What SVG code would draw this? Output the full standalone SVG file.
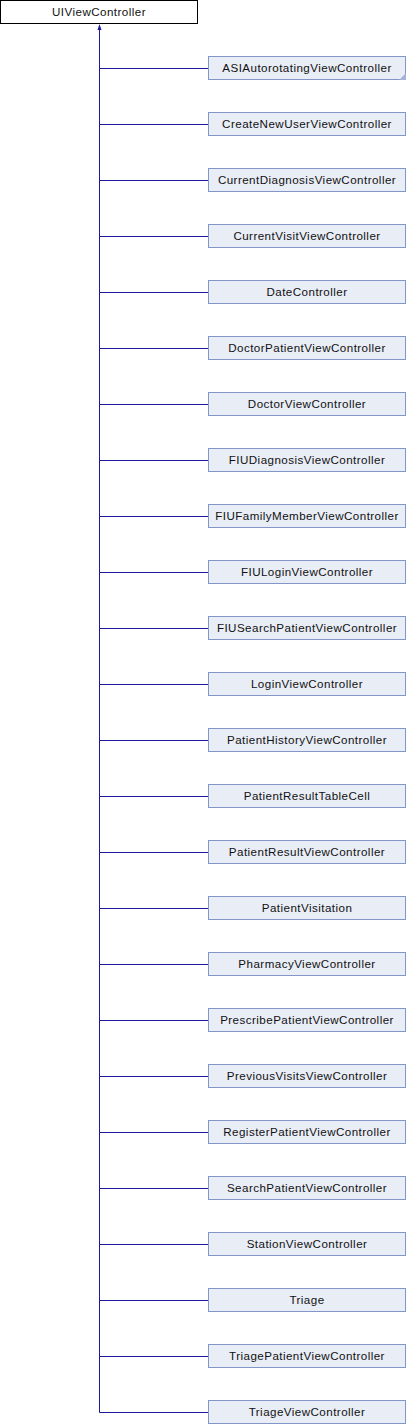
<svg xmlns="http://www.w3.org/2000/svg" width="406" height="1424" viewBox="0 0 406 1424">
<style>
.bg{fill:#ffffff}
.base rect{fill:#ffffff;stroke:#000000;stroke-width:1}
.cls rect{fill:#e8edf6;stroke:#8396c9;stroke-width:1}
text{font-family:"Liberation Sans",Arial,sans-serif;font-size:11.6px;letter-spacing:0.45px;fill:#111111;text-anchor:middle}
.edge{stroke:#1a1a9c;stroke-width:1;fill:none}
.fold{fill:#a6b3d8}
</style>
<rect class="bg" x="0" y="0" width="406" height="1424"/>
<g id="connectors">
<path class="edge" d="M99.5,29 V1412.5"/>
<polygon points="99.5,24 97.5,30 101.5,30" fill="#1a1a9c"/>
<path class="edge" d="M99.5,68.5H208 M99.5,124.5H208 M99.5,180.5H208 M99.5,236.5H208 M99.5,292.5H208 M99.5,348.5H208 M99.5,404.5H208 M99.5,460.5H208 M99.5,516.5H208 M99.5,572.5H208 M99.5,628.5H208 M99.5,684.5H208 M99.5,740.5H208 M99.5,796.5H208 M99.5,852.5H208 M99.5,908.5H208 M99.5,964.5H208 M99.5,1020.5H208 M99.5,1076.5H208 M99.5,1132.5H208 M99.5,1188.5H208 M99.5,1244.5H208 M99.5,1300.5H208 M99.5,1356.5H208 M99.5,1412.5H208"/>
</g>
<g id="UIViewController" class="base"><rect x="0.5" y="0.5" width="197" height="23"/><text x="99" y="16">UIViewController</text></g>
<g id="ASIAutorotatingViewController" class="cls"><rect x="208.5" y="56.5" width="197" height="23"/><polygon class="fold" points="399,80 406,80 406,73"/><text x="307" y="72">ASIAutorotatingViewController</text></g>
<g id="CreateNewUserViewController" class="cls"><rect x="208.5" y="112.5" width="197" height="23"/><text x="307" y="128">CreateNewUserViewController</text></g>
<g id="CurrentDiagnosisViewController" class="cls"><rect x="208.5" y="168.5" width="197" height="23"/><text x="307" y="184">CurrentDiagnosisViewController</text></g>
<g id="CurrentVisitViewController" class="cls"><rect x="208.5" y="224.5" width="197" height="23"/><text x="307" y="240">CurrentVisitViewController</text></g>
<g id="DateController" class="cls"><rect x="208.5" y="280.5" width="197" height="23"/><text x="307" y="296">DateController</text></g>
<g id="DoctorPatientViewController" class="cls"><rect x="208.5" y="336.5" width="197" height="23"/><text x="307" y="352">DoctorPatientViewController</text></g>
<g id="DoctorViewController" class="cls"><rect x="208.5" y="392.5" width="197" height="23"/><text x="307" y="408">DoctorViewController</text></g>
<g id="FIUDiagnosisViewController" class="cls"><rect x="208.5" y="448.5" width="197" height="23"/><text x="307" y="464">FIUDiagnosisViewController</text></g>
<g id="FIUFamilyMemberViewController" class="cls"><rect x="208.5" y="504.5" width="197" height="23"/><text x="307" y="520">FIUFamilyMemberViewController</text></g>
<g id="FIULoginViewController" class="cls"><rect x="208.5" y="560.5" width="197" height="23"/><text x="307" y="576">FIULoginViewController</text></g>
<g id="FIUSearchPatientViewController" class="cls"><rect x="208.5" y="616.5" width="197" height="23"/><text x="307" y="632">FIUSearchPatientViewController</text></g>
<g id="LoginViewController" class="cls"><rect x="208.5" y="672.5" width="197" height="23"/><text x="307" y="688">LoginViewController</text></g>
<g id="PatientHistoryViewController" class="cls"><rect x="208.5" y="728.5" width="197" height="23"/><text x="307" y="744">PatientHistoryViewController</text></g>
<g id="PatientResultTableCell" class="cls"><rect x="208.5" y="784.5" width="197" height="23"/><text x="307" y="800">PatientResultTableCell</text></g>
<g id="PatientResultViewController" class="cls"><rect x="208.5" y="840.5" width="197" height="23"/><text x="307" y="856">PatientResultViewController</text></g>
<g id="PatientVisitation" class="cls"><rect x="208.5" y="896.5" width="197" height="23"/><text x="307" y="912">PatientVisitation</text></g>
<g id="PharmacyViewController" class="cls"><rect x="208.5" y="952.5" width="197" height="23"/><text x="307" y="968">PharmacyViewController</text></g>
<g id="PrescribePatientViewController" class="cls"><rect x="208.5" y="1008.5" width="197" height="23"/><text x="307" y="1024">PrescribePatientViewController</text></g>
<g id="PreviousVisitsViewController" class="cls"><rect x="208.5" y="1064.5" width="197" height="23"/><text x="307" y="1080">PreviousVisitsViewController</text></g>
<g id="RegisterPatientViewController" class="cls"><rect x="208.5" y="1120.5" width="197" height="23"/><text x="307" y="1136">RegisterPatientViewController</text></g>
<g id="SearchPatientViewController" class="cls"><rect x="208.5" y="1176.5" width="197" height="23"/><text x="307" y="1192">SearchPatientViewController</text></g>
<g id="StationViewController" class="cls"><rect x="208.5" y="1232.5" width="197" height="23"/><text x="307" y="1248">StationViewController</text></g>
<g id="Triage" class="cls"><rect x="208.5" y="1288.5" width="197" height="23"/><text x="307" y="1304">Triage</text></g>
<g id="TriagePatientViewController" class="cls"><rect x="208.5" y="1344.5" width="197" height="23"/><text x="307" y="1360">TriagePatientViewController</text></g>
<g id="TriageViewController" class="cls"><rect x="208.5" y="1400.5" width="197" height="23"/><text x="307" y="1416">TriageViewController</text></g>
</svg>
